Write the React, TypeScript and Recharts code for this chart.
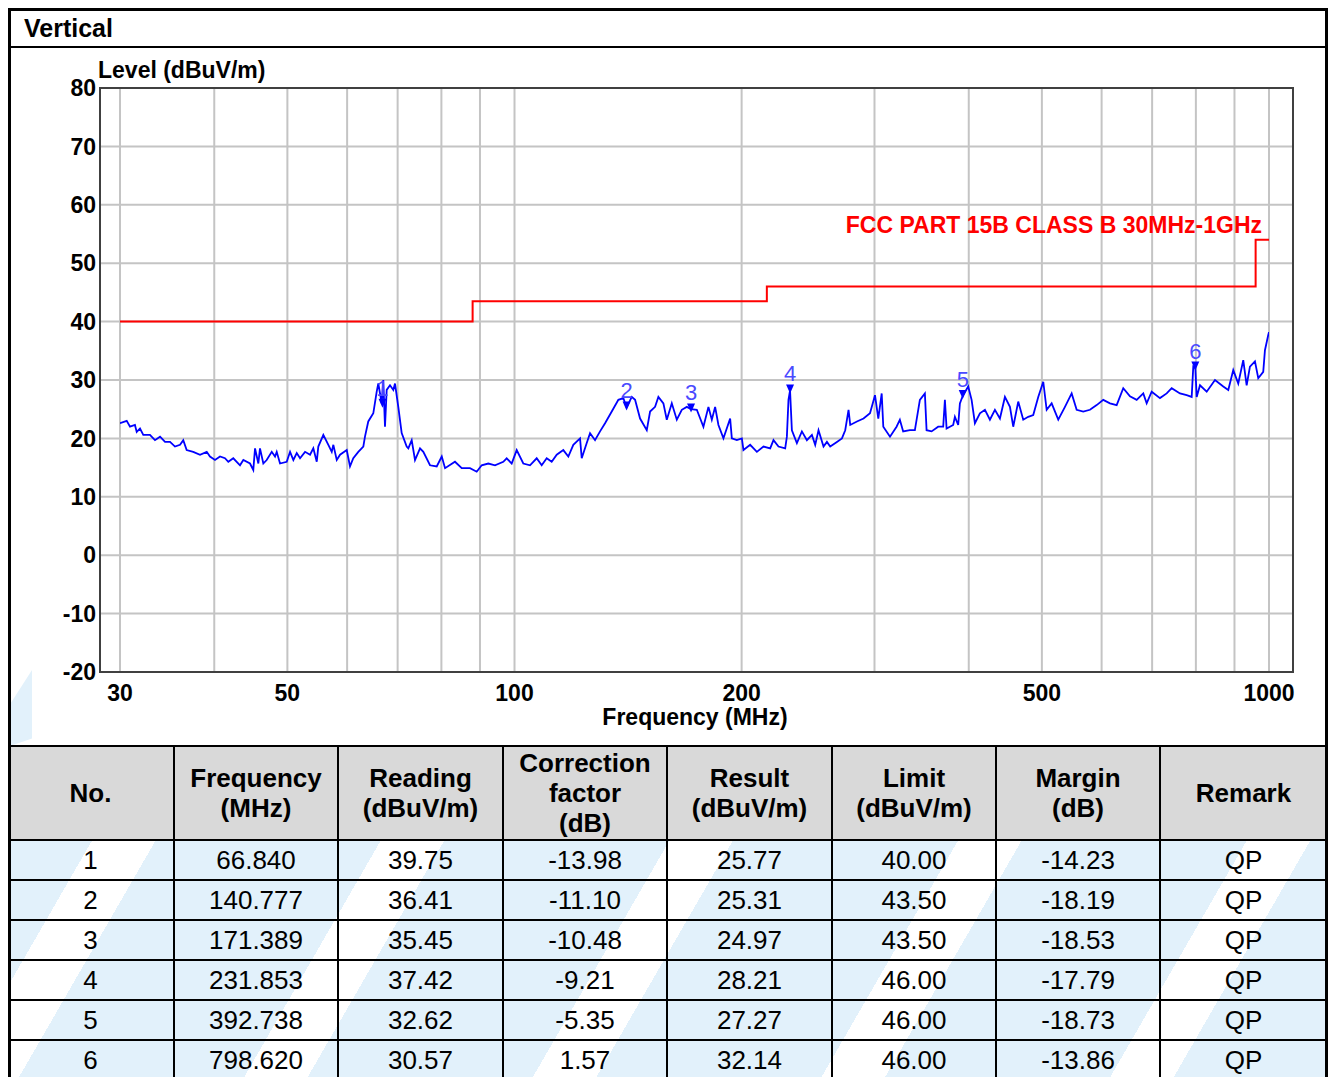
import { ComposedChart, Line, Scatter, XAxis, YAxis, CartesianGrid } from "recharts"

const FONT = '"Liberation Sans", Arial, Helvetica, sans-serif'

// measured trace, [frequency MHz, level dBuV/m]
const traceLow: [number, number][] = [
  [30, 22.6], [30.62, 23.0], [30.93, 22.0], [31.4, 22.3], [31.57, 21.1], [31.89, 21.7], [32.21, 20.6],
  [32.87, 20.6], [33.38, 19.7], [33.9, 20.3], [34.42, 19.4], [34.95, 19.4], [35.48, 18.6], [36.03, 18.9],
  [36.39, 19.7], [36.77, 18.0], [37.51, 17.7], [38.3, 17.2], [39.09, 17.7], [39.48, 16.9], [40.09, 16.3],
  [40.71, 16.9], [41.33, 16.6], [41.75, 16.0], [42.39, 16.6], [43.27, 15.4], [43.71, 16.3], [44.61, 15.7],
  [45.06, 14.6], [45.3, 18.3], [45.76, 15.7], [45.99, 18.3], [46.46, 15.7], [46.94, 16.3], [47.67, 17.7],
  [48.15, 16.9], [48.4, 17.7], [48.89, 15.7], [49.9, 16.0], [50.41, 17.7], [50.92, 16.3], [51.45, 17.5],
  [51.97, 16.6], [52.77, 17.7], [53.58, 17.2], [54.12, 18.3], [54.69, 16.0], [54.95, 18.6], [55.8, 20.6],
  [56.66, 18.9], [57.25, 17.7], [57.53, 18.9], [58.13, 16.3], [58.72, 17.2], [59.93, 18.0], [60.53, 15.2],
  [61.14, 16.6], [62.08, 17.7], [63.04, 18.6], [63.36, 20.3], [64.0, 22.9], [64.99, 24.3], [65.67, 28.0],
  [65.99, 29.4], [66.68, 26.0], [67.0, 30.0], [67.35, 22.0], [67.7, 28.3], [68.39, 29.1], [69.08, 28.3],
  [69.44, 29.4], [70.14, 25.4], [70.87, 20.9], [71.96, 18.6],
]

const traceMid: [number, number][] = [
  [72.32, 18.3], [73.07, 19.7], [73.81, 16.3], [74.95, 18.3], [75.71, 17.7], [77.27, 15.4], [78.87, 15.2],
  [80.09, 16.9], [80.9, 14.9], [83.39, 16.0], [85.12, 14.9], [87.3, 14.9], [89.1, 14.3], [90.47, 15.4],
  [92.31, 15.7], [94.22, 15.4], [96.63, 16.0], [97.64, 16.6], [99.14, 15.7], [100.67, 18.0], [102.72, 15.7],
  [104.84, 15.4], [107.01, 16.6], [108.65, 15.4], [110.33, 16.6], [112.02, 16.0], [113.75, 17.2],
  [116.06, 18.0], [117.85, 16.9], [119.66, 18.9], [122.14, 20.0], [122.77, 16.6], [124.66, 19.2],
  [125.93, 20.9], [127.86, 19.7], [129.83, 21.2], [131.83, 22.6], [134.55, 24.6], [137.29, 26.6],
  [139.41, 26.9], [140.78, 25.3], [143.03, 27.1], [144.48, 26.6], [146.7, 23.4], [149.73, 21.4],
  [151.25, 24.6], [153.57, 25.4], [155.13, 27.1], [157.52, 26.0], [159.16, 23.2], [161.61, 26.0],
  [164.1, 23.2], [166.62, 24.9], [169.19, 25.4], [171.39, 25.0],
]

const traceHigh: [number, number][] = [
  [174.44, 24.9], [177.99, 22.0], [180.73, 25.4], [182.61, 23.2], [184.46, 25.4], [186.33, 22.3],
  [189.2, 20.0], [193.11, 23.4], [194.11, 20.0], [197.1, 19.7], [200.14, 20.0], [201.12, 18.0],
  [205.28, 18.9], [209.52, 17.7], [213.79, 18.6], [218.21, 18.3], [220.41, 19.7], [223.81, 18.6],
  [228.43, 18.3], [229.62, 20.3], [230.74, 26.6], [231.85, 28.2], [233.15, 21.4], [236.73, 19.2],
  [240.38, 21.2], [244.08, 19.7], [247.84, 20.6], [250.35, 18.9], [252.88, 21.4], [256.78, 18.6],
  [259.46, 19.4], [262.08, 18.6], [267.5, 19.4], [271.62, 20.0], [274.37, 21.4], [277.15, 24.9],
  [278.59, 22.3], [284.35, 22.9], [290.14, 23.4], [295.91, 24.3], [300.46, 27.4], [303.5, 23.4],
  [306.67, 27.7], [308.17, 22.0], [314.54, 20.3], [320.9, 22.0], [324.16, 23.2], [327.44, 21.2],
  [334.21, 21.4], [339.36, 21.4], [344.57, 26.6], [349.87, 27.7], [351.69, 21.4], [357.1, 21.2],
  [364.37, 22.0], [369.99, 22.0], [371.91, 26.6], [373.84, 21.7], [381.45, 22.3], [383.44, 23.7],
  [387.32, 22.3], [389.33, 26.0], [392.74, 27.3], [399.33, 28.9], [403.49, 26.6], [407.58, 22.6],
  [413.85, 24.3],
]

const traceTop: [number, number][] = [
  [420.23, 24.9], [426.68, 23.2], [433.24, 24.9], [439.91, 23.4], [446.68, 27.1], [453.56, 25.4],
  [458.15, 22.0], [465.2, 26.3], [472.36, 23.2], [479.63, 23.7], [487.01, 24.0], [494.5, 27.1],
  [502.12, 29.7], [507.35, 24.9], [515.15, 26.0], [525.64, 23.2], [536.5, 25.4], [547.58, 27.7],
  [556.0, 24.9], [567.32, 24.6], [579.04, 24.9], [591.0, 25.7], [603.03, 26.6], [615.48, 26.0],
  [628.2, 25.7], [640.97, 28.6], [654.24, 27.2], [667.76, 26.6], [681.34, 27.7], [688.45, 26.0],
  [699.03, 28.0], [716.98, 26.9], [731.79, 27.7], [743.04, 28.6], [762.1, 27.7], [777.84, 27.4],
  [789.82, 27.1], [793.69, 32.3], [798.62, 32.1], [801.98, 27.1], [810.09, 29.1], [826.82, 28.0],
  [848.03, 30.0], [869.76, 28.9], [883.11, 28.3], [896.67, 31.7], [910.45, 29.4], [924.44, 33.4],
  [934.08, 29.1], [943.53, 32.3], [958.04, 33.2], [967.73, 30.3], [982.6, 31.4], [987.71, 35.1],
  [997.7, 37.7], [1000, 38.2],
]

// FCC Part 15B class B limit (steps)
const limitFreq = [30, 88, 88, 216, 216, 960, 960, 1000]
const limitLevel = [40, 40, 43.5, 43.5, 46, 46, 54, 54]

const gridFreq = [30, 40, 50, 60, 70, 80, 90, 100, 200, 300, 400, 500, 600, 700, 800, 900, 1000]
const labelFreq = [30, 50, 100, 200, 500, 1000]
const levelTicks = [-20, -10, 0, 10, 20, 30, 40, 50, 60, 70, 80]

const tableHeader = ["No.", "Frequency\n(MHz)", "Reading\n(dBuV/m)", "Correction\nfactor\n(dB)", "Result\n(dBuV/m)", "Limit\n(dBuV/m)", "Margin\n(dB)", "Remark"]
const tableRows = [
  ["1", "66.840", "39.75", "-13.98", "25.77", "40.00", "-14.23", "QP"],
  ["2", "140.777", "36.41", "-11.10", "25.31", "43.50", "-18.19", "QP"],
  ["3", "171.389", "35.45", "-10.48", "24.97", "43.50", "-18.53", "QP"],
  ["4", "231.853", "37.42", "-9.21", "28.21", "46.00", "-17.79", "QP"],
  ["5", "392.738", "32.62", "-5.35", "27.27", "46.00", "-18.73", "QP"],
  ["6", "798.620", "30.57", "1.57", "32.14", "46.00", "-13.86", "QP"],
]
const colWidths = [167, 164, 165, 164, 165, 164, 164, 167]

const traceData = [...traceLow, ...traceMid, ...traceHigh, ...traceTop].map(([f, level]) => ({ f, level }))
const limitData = limitFreq.map((f, i) => ({ f, level: limitLevel[i] }))
const markerData = tableRows.map((r) => ({ f: Number(r[1]), level: Number(r[4]), no: r[0] }))

function MarkerShape(props: any) {
  const { cx, cy, payload } = props
  if (cx == null || cy == null) return null
  return (
    <g>
      <path d={`M${cx - 4},${cy - 6} L${cx + 4},${cy - 6} L${cx},${cy + 3} Z`} fill="#0000ff" />
      <text x={cx} y={cy - 9} textAnchor="middle" fontFamily={FONT} fontSize={22} fill="#4a4aff">
        {payload.no}
      </text>
    </g>
  )
}

const abs = (left: number, top: number, extra: React.CSSProperties = {}): React.CSSProperties => ({
  position: "absolute",
  left,
  top,
  ...extra,
})

const stripes =
  "repeating-linear-gradient(120deg, #ffffff 0px, #ffffff 55px, #e2f1fb 55px, #e2f1fb 250px)"

export default function App() {
  return (
    <div style={{ position: "fixed", left: 0, top: 0, width: 1330, height: 1077, overflow: "hidden", background: "#fff", fontFamily: FONT }}>
      {/* faint watermark piece */}
      <div style={abs(10, 670, { width: 22, height: 76, background: "#e2f1fb", clipPath: "polygon(0 100%, 0 45%, 100% 0, 100% 90%)" })} />

      <div style={abs(8, 49)}>
        <ComposedChart width={1320} height={697} margin={{ top: 39, right: 35, left: 12, bottom: 0 }}>
          <CartesianGrid stroke="#c4c4c4" strokeWidth={2} />
          <XAxis
            dataKey="f"
            type="number"
            scale="log"
            domain={[30, 1000]}
            allowDataOverflow
            ticks={gridFreq}
            interval={0}
            padding={{ left: 20, right: 24 }}
            height={74}
            tickSize={0}
            tickMargin={13}
            axisLine={false}
            tickFormatter={(v: number) => (labelFreq.includes(v) ? String(v) : "")}
            tick={{ fontSize: 23, fontWeight: 700, fill: "#000", fontFamily: FONT }}
          />
          <YAxis
            dataKey="level"
            type="number"
            domain={[-20, 80]}
            allowDataOverflow
            ticks={levelTicks}
            interval={0}
            width={80}
            tickSize={0}
            tickMargin={4}
            axisLine={false}
            tick={{ fontSize: 23, fontWeight: 700, fill: "#000", fontFamily: FONT }}
          />
          <Line data={limitData} dataKey="level" type="linear" stroke="#ff0000" strokeWidth={2} dot={false} activeDot={false} isAnimationActive={false} />
          <Line data={traceData} dataKey="level" type="linear" stroke="#0000ff" strokeWidth={1.8} dot={false} activeDot={false} isAnimationActive={false} />
          <Scatter data={markerData} dataKey="level" shape={MarkerShape} isAnimationActive={false} />
        </ComposedChart>
      </div>

      {/* plot frame */}
      <div style={abs(99, 87, { width: 1195, height: 586, border: "2px solid #404040", boxSizing: "border-box", pointerEvents: "none" })} />

      <div style={abs(98, 59, { fontSize: 23, lineHeight: "23px", fontWeight: 700, color: "#000" })}>Level (dBuV/m)</div>
      <div style={abs(495, 706, { width: 400, textAlign: "center", fontSize: 23, lineHeight: "23px", fontWeight: 700, color: "#000" })}>
        Frequency (MHz)
      </div>
      <div style={abs(762, 214, { width: 500, textAlign: "right", fontSize: 23, lineHeight: "23px", fontWeight: 700, color: "#ff0000" })}>
        FCC PART 15B CLASS B 30MHz-1GHz
      </div>

      {/* title bar */}
      <div style={abs(24, 14, { fontSize: 25, lineHeight: "28px", fontWeight: 700, color: "#000" })}>Vertical</div>
      <div style={abs(8, 46, { width: 1320, height: 2, background: "#000" })} />

      {/* table */}
      <div style={abs(8, 745, { width: 1320 })}>
        <div style={{ height: 2, background: "#000" }} />
        <div style={{ display: "flex" }}>
          {tableHeader.map((h, i) => (
            <div
              key={i}
              style={{
                width: colWidths[i],
                height: 94,
                boxSizing: "border-box",
                borderRight: "2px solid #000",
                borderBottom: "2px solid #000",
                background: "#d9d9d9",
                display: "flex",
                alignItems: "center",
                justifyContent: "center",
                textAlign: "center",
                whiteSpace: "pre-line",
                fontSize: 26,
                lineHeight: "30px",
                fontWeight: 700,
                color: "#000",
              }}
            >
              {h}
            </div>
          ))}
        </div>
        {tableRows.map((row, r) => (
          <div key={r} style={{ display: "flex" }}>
            {row.map((c, i) => (
              <div
                key={i}
                style={{
                  width: colWidths[i],
                  height: 40,
                  boxSizing: "border-box",
                  borderRight: "2px solid #000",
                  borderBottom: "2px solid #000",
                  background: stripes,
                  backgroundAttachment: "fixed",
                  display: "flex",
                  alignItems: "center",
                  justifyContent: "center",
                  fontSize: 26,
                  lineHeight: "30px",
                  color: "#000",
                }}
              >
                {c}
              </div>
            ))}
          </div>
        ))}
      </div>

      {/* outer frame */}
      <div style={abs(8, 8, { width: 1320, height: 1100, border: "3px solid #000", boxSizing: "border-box", pointerEvents: "none" })} />
    </div>
  )
}
